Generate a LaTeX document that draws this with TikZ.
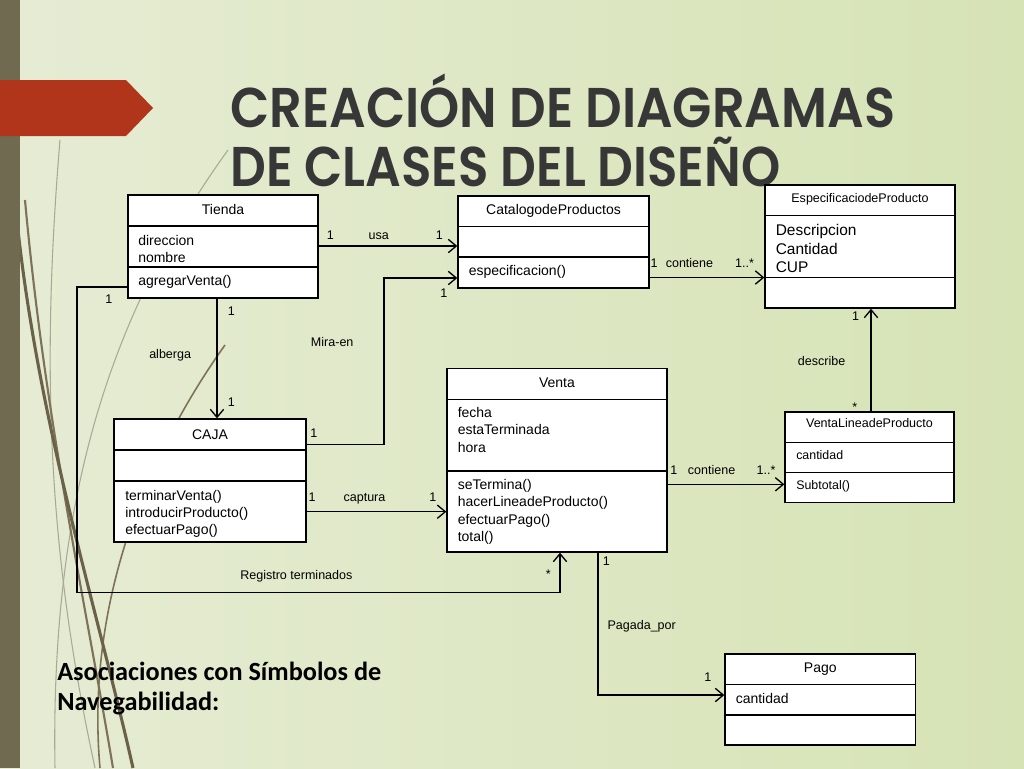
\documentclass[tikz,border=0pt]{standalone}
\usepackage{fontspec}
\setmainfont{Liberation Sans}
\newfontfamily\titlefont{Poppins SemiBold}
\newfontfamily\calfont{Carlito}
\usetikzlibrary{arrows.meta,fit}
\definecolor{bgl}{HTML}{E6ECD4}
\definecolor{bgm}{HTML}{F0F2E6}
\definecolor{bgr}{HTML}{D6E3B5}
\definecolor{barc}{HTML}{706A50}
\definecolor{redc}{HTML}{B0351A}
\definecolor{titlec}{HTML}{373737}
\definecolor{grassd}{HTML}{6B6149}
\definecolor{grassm}{HTML}{7E7358}
\definecolor{grassl}{HTML}{A8A996}
\tikzset{
  cls/.style={draw=black, line width=1pt, fill=white, inner sep=0pt, rectangle},
  divl/.style={line width=1pt},
  nav/.style={line width=1pt, -{Straight Barb[length=6pt,width=10pt,line width=1pt]}},
  plainl/.style={line width=1pt},
  bt/.style={inner sep=0pt, anchor=base west, font=\fontsize{10.5}{12}\selectfont},
  bh/.style={inner sep=0pt, anchor=base, font=\fontsize{10.5}{12}\selectfont},
  st/.style={inner sep=0pt, anchor=base west, font=\fontsize{9.3}{11}\selectfont},
  sh/.style={inner sep=0pt, anchor=base, font=\fontsize{9.4}{11}\selectfont},
  lt/.style={inner sep=0pt, anchor=base west, font=\fontsize{11.6}{13}\selectfont},
  lab/.style={inner sep=0pt, anchor=base west, font=\fontsize{9.4}{11}\selectfont},
}
\begin{document}
\begin{tikzpicture}[x=0.75pt,y=-0.75pt]
\useasboundingbox (0,0) rectangle (1024,768);
% background
\shade[left color=bgl, middle color=bgm, right color=bgr] (0,0) rectangle (1024,768);
% grass curves
\begin{scope}
\clip (0,0) rectangle (1024,768);
\draw[grassl, line width=0.8pt] (228,150) .. controls (120,300) and (50,480) .. (55,768);
\draw[grassl, line width=0.8pt] (60,140) .. controls (40,380) and (50,560) .. (95,768);
\draw[grassm, line width=1.2pt] (225,345) .. controls (150,450) and (85,600) .. (100,768);
\draw[grassm, line width=1.6pt] (25,200) .. controls (45,420) and (85,600) .. (113,768);
\draw[grassd, line width=2.3pt] (18,230) .. controls (40,430) and (100,620) .. (133,768);
\end{scope}
% left bar and banner
\fill[barc] (0,0) rectangle (20,768);
\fill[redc] (0,80) -- (126,80) -- (153,108) -- (126,136) -- (0,136) -- cycle;
% title
\node[anchor=base west, inner sep=0, text=titlec] (title1) at (230,127)
  {\resizebox{498.75pt}{\height}{\titlefont\fontsize{42}{50}\selectfont CREACIÓN DE DIAGRAMAS}};
\node[anchor=base west, inner sep=0, text=titlec] (title2) at (230,186)
  {\resizebox{412.5pt}{\height}{\titlefont\fontsize{42}{50}\selectfont DE CLASES DEL DISEÑO}};
% bottom text
\node[anchor=base west, inner sep=0] (note1) at (57,680)
  {\resizebox{243pt}{\height}{\calfont\bfseries\fontsize{19.7}{24}\selectfont Asociaciones con Símbolos de}};
\node[anchor=base west, inner sep=0] (note2) at (57,710)
  {\calfont\bfseries\fontsize{19.7}{24}\selectfont Navegabilidad:};

% ---------- classes ----------
\node[cls, fit={(128,195) (318,298)}] (tienda) {};
\draw[divl] (tienda.west |- 0,226) -- (tienda.east |- 0,226);
\draw[divl] (tienda.west |- 0,267) -- (tienda.east |- 0,267);
\node[bh] (tiendah) at (223,214.7) {Tienda};
\node[bt] (tienda1) at (138,245) {direccion};
\node[bt] (tienda2) at (138,262) {nombre};
\node[bt] (tienda3) at (138,285.5) {agregarVenta()};

\node[cls, fit={(458,196) (649,288)}] (catalogo) {};
\draw[divl] (catalogo.west |- 0,226.5) -- (catalogo.east |- 0,226.5);
\draw[divl] (catalogo.west |- 0,257) -- (catalogo.east |- 0,257);
\node[bh] (catalogoh) at (553.5,214.3) {CatalogodeProductos};
\node[bt] (catalogo1) at (468.5,275.5) {especificacion()};

\node[cls, fit={(765,185) (955,308)}] (espec) {};
\draw[divl] (espec.west |- 0,215.5) -- (espec.east |- 0,215.5);
\draw[divl] (espec.west |- 0,277.5) -- (espec.east |- 0,277.5);
\node[sh] (esph) at (860,202.3) {EspecificaciodeProducto};
\node[lt] (esp1) at (775.5,235.7) {Descripcion};
\node[lt] (esp2) at (775.5,254) {Cantidad};
\node[lt] (esp3) at (775.5,272.3) {CUP};

\node[cls, fit={(114,419) (306,542)}] (caja) {};
\draw[divl] (caja.west |- 0,450) -- (caja.east |- 0,450);
\draw[divl] (caja.west |- 0,481) -- (caja.east |- 0,481);
\node[bh] (cajah) at (210,439) {CAJA};
\node[bt] (caja1) at (125,500) {terminarVenta()};
\node[bt] (caja2) at (125,517.3) {introducirProducto()};
\node[bt] (caja3) at (125,534.3) {efectuarPago()};

\node[cls, fit={(447,368.5) (667,552)}] (venta) {};
\draw[divl] (venta.west |- 0,399.5) -- (venta.east |- 0,399.5);
\draw[divl] (venta.west |- 0,471) -- (venta.east |- 0,471);
\node[bh] (ventah) at (557,387.3) {Venta};
\node[bt] (venta1) at (457.5,417.3) {fecha};
\node[bt] (venta2) at (457.5,434.7) {estaTerminada};
\node[bt] (venta3) at (457.5,452) {hora};
\node[bt] (venta4) at (457.5,489.5) {seTermina()};
\node[bt] (venta5) at (457.5,506.8) {hacerLineadeProducto()};
\node[bt] (venta6) at (457.5,524) {efectuarPago()};
\node[bt] (venta7) at (457.5,541) {total()};

\node[cls, fit={(785,412) (954,502.5)}] (vlinea) {};
\draw[divl] (vlinea.west |- 0,442.3) -- (vlinea.east |- 0,442.3);
\draw[divl] (vlinea.west |- 0,472.3) -- (vlinea.east |- 0,472.3);
\node[sh] (vlineah) at (869.5,427.7) {VentaLineadeProducto};
\node[st] (vlinea1) at (796,459.3) {cantidad};
\node[st] (vlinea2) at (796,489.5) {Subtotal()};

\node[cls, fit={(725,654) (915.5,745)}] (pago) {};
\draw[divl] (pago.west |- 0,684.3) -- (pago.east |- 0,684.3);
\draw[divl] (pago.west |- 0,715) -- (pago.east |- 0,715);
\node[bh] (pagoh) at (820.3,672.7) {Pago};
\node[bt] (pago1) at (735.5,703.3) {cantidad};

% ---------- connectors ----------
\draw[nav] (tienda.east |- 0,246) -- (catalogo.west |- 0,246);
\draw[nav] (tienda.south -| 217,0) -- (caja.north -| 217,0);
\coordinate (mira) at (384,444.5);
\draw[nav] (caja.east |- mira) -| (384,278) -- (catalogo.west |- 0,278);
\draw[nav] (catalogo.east |- 0,277.5) -- (espec.west |- 0,277.5);
\draw[nav] (caja.east |- 0,511.7) -- (venta.west |- 0,511.7);
\draw[nav] (venta.east |- 0,484.3) -- (vlinea.west |- 0,484.3);
\draw[nav] (vlinea.north -| 871,0) -- (espec.south -| 871,0);
\coordinate (reg1) at (77,287);
\coordinate (reg2) at (77,592.3);
\coordinate (reg3) at (560,592.3);
\draw[nav] (tienda.west |- reg1) -- (reg1) -- (reg2) -- (reg3) -- (venta.south -| reg3);
\coordinate (pag1) at (598,695);
\draw[nav] (venta.south -| pag1) -- (pag1) -- (pago.west |- pag1);

% ---------- labels ----------
\node[lab] (l1) at (326.7,239) {1};
\node[lab] (l2) at (368.3,239) {usa};
\node[lab] (l3) at (435.7,239) {1};
\node[lab] (l4) at (105,303.3) {1};
\node[lab] (l5) at (227.7,315) {1};
\node[lab] (l6) at (149,358) {alberga};
\node[lab] (l7) at (227.7,406) {1};
\node[lab] (l8) at (310.7,346.7) {Mira-en};
\node[lab] (l9) at (440,297.3) {1};
\node[lab] (l10) at (310,437.7) {1};
\node[lab] (l11) at (308.3,501.7) {1};
\node[lab] (l12) at (343.3,501.7) {captura};
\node[lab] (l13) at (429,501.7) {1};
\node[lab] (l14) at (240,579.3) {Registro terminados};
\node[lab] (l15) at (545.5,578) {*};
\node[lab] (l16) at (602.7,565.7) {1};
\node[lab] (l17) at (670,474.3) {1};
\node[lab] (l18) at (687.6,474.3) {contiene};
\node[lab] (l19) at (756.4,474.3) {1..*};
\node[lab] (l20) at (650.3,267.3) {1};
\node[lab] (l21) at (665.5,267.3) {contiene};
\node[lab] (l22) at (734.8,267.3) {1..*};
\node[lab] (l23) at (851.8,320.7) {1};
\node[lab] (l24) at (797.7,365.7) {describe};
\node[lab] (l25) at (852,411) {*};
\node[lab] (l26) at (607.3,629.3) {Pagada\_por};
\node[lab] (l27) at (704,681.7) {1};
\end{tikzpicture}
\end{document}
